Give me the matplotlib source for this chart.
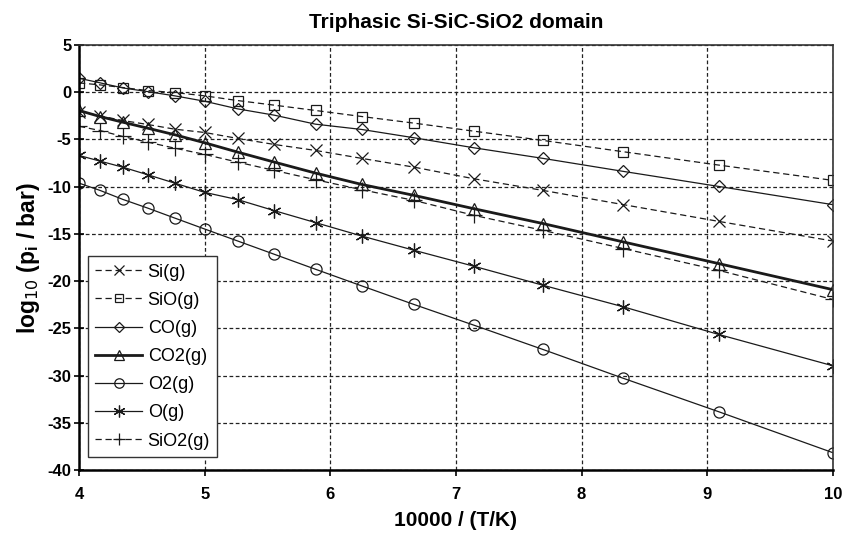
import matplotlib.pyplot as plt

plt.rcParams['font.family'] = ['Liberation Sans', 'DejaVu Sans']
plt.rcParams['axes.unicode_minus'] = False

# 10000/T for T = 2500 ... 1000 K
temps = [2500, 2400, 2300, 2200, 2100, 2000, 1900, 1800, 1700, 1600, 1500, 1400, 1300, 1200, 1100, 1000]
x = [10000.0 / t for t in temps]

si = [-2.04, -2.5, -2.99, -3.41, -3.91, -4.26, -4.89, -5.53, -6.16, -7.0, -7.93, -9.16, -10.39, -11.9, -13.67, -15.75]
sio = [0.99, 0.78, 0.5, 0.18, -0.03, -0.38, -0.88, -1.37, -1.93, -2.57, -3.27, -4.12, -5.1, -6.3, -7.71, -9.33]
co = [1.48, 1.0, 0.46, 0.07, -0.38, -0.95, -1.76, -2.43, -3.38, -3.94, -4.82, -5.88, -7.0, -8.38, -9.97, -11.9]
co2 = [-1.93, -2.57, -3.17, -3.8, -4.5, -5.35, -6.34, -7.4, -8.56, -9.76, -10.92, -12.33, -13.9, -15.85, -18.14, -20.9]
o2 = [-9.62, -10.39, -11.34, -12.26, -13.32, -14.48, -15.75, -17.16, -18.74, -20.5, -22.47, -24.66, -27.23, -30.29, -33.82, -38.16]
o = [-6.69, -7.29, -7.93, -8.73, -9.62, -10.6, -11.37, -12.54, -13.8, -15.22, -16.73, -18.42, -20.43, -22.72, -25.64, -28.96]
sio2 = [-3.6, -4.05, -4.68, -5.28, -5.92, -6.58, -7.4, -8.28, -9.26, -10.32, -11.45, -13.03, -14.62, -16.55, -18.85, -21.94]

xticks = [4, 5, 6, 7, 8, 9, 10]
yticks = [5, 0, -5, -10, -15, -20, -25, -30, -35, -40]

fig = plt.figure(figsize=(8.47, 5.36), dpi=100)
ax = fig.add_axes([0.0933, 0.123, 0.89, 0.793])

dash = (0, (5, 3))
kw = dict(color='#1a1a1a', markerfacecolor='none', markeredgecolor='#1a1a1a',
          markeredgewidth=0.9)

ax.plot(x, si, linestyle=dash, linewidth=0.9, marker='x', markersize=9, label='Si(g)', **kw)
ax.plot(x, sio, linestyle=dash, linewidth=0.9, marker='s', markersize=7, label='SiO(g)', **kw)
ax.plot(x, co, linestyle='-', linewidth=0.9, marker='D', markersize=6.5, label='CO(g)', **kw)
ax.plot(x, co2, linestyle='-', linewidth=2.0, marker='^', markersize=8, label='CO2(g)', **kw)
ax.plot(x, o2, linestyle='-', linewidth=0.9, marker='o', markersize=8, label='O2(g)', **kw)
ax.plot(x, o, linestyle='-', linewidth=0.9, marker=(6, 2, 0), markersize=10, label='O(g)', **kw)
ax.plot(x, sio2, linestyle=dash, linewidth=0.9, marker='+', markersize=11, label='SiO2(g)', **kw)

ax.set_xlim(4, 10)
ax.set_ylim(-40, 5)
ax.set_xticks(xticks)
ax.set_yticks(yticks)
ax.grid(True, linestyle=(0, (3, 2)), color='#222222', linewidth=0.9)

for s in ['left', 'bottom']:
    ax.spines[s].set_linewidth(1.8)
    ax.spines[s].set_color('black')
for s in ['top', 'right']:
    ax.spines[s].set_linewidth(1.2)
    ax.spines[s].set_color('#333333')

ax.tick_params(axis='y', direction='inout', length=7, width=1.2, labelsize=12, pad=2)
ax.tick_params(axis='x', direction='out', length=4, width=1.2, labelsize=12, pad=8)
for lab in ax.get_xticklabels() + ax.get_yticklabels():
    lab.set_fontweight('bold')

ax.set_title('Triphasic Si-SiC-SiO2 domain', fontsize=15, fontweight='bold', pad=12)
ax.set_xlabel('10000 / (T/K)', fontsize=15, fontweight='bold', labelpad=7)
ax.set_ylabel('log$_{10}$ (p$_\\mathregular{i}$ / bar)', fontsize=16.5, fontweight='bold', labelpad=4)

leg = ax.legend(loc='lower left', bbox_to_anchor=(0.012, 0.031), fontsize=13,
                frameon=True, fancybox=False, framealpha=1, edgecolor='#333333',
                handlelength=2.6, borderpad=0.4, labelspacing=0.62, handletextpad=0.3,
                borderaxespad=0, markerscale=0.85)
leg.get_frame().set_linewidth(1.0)

fig.savefig('out.png', dpi=100)
